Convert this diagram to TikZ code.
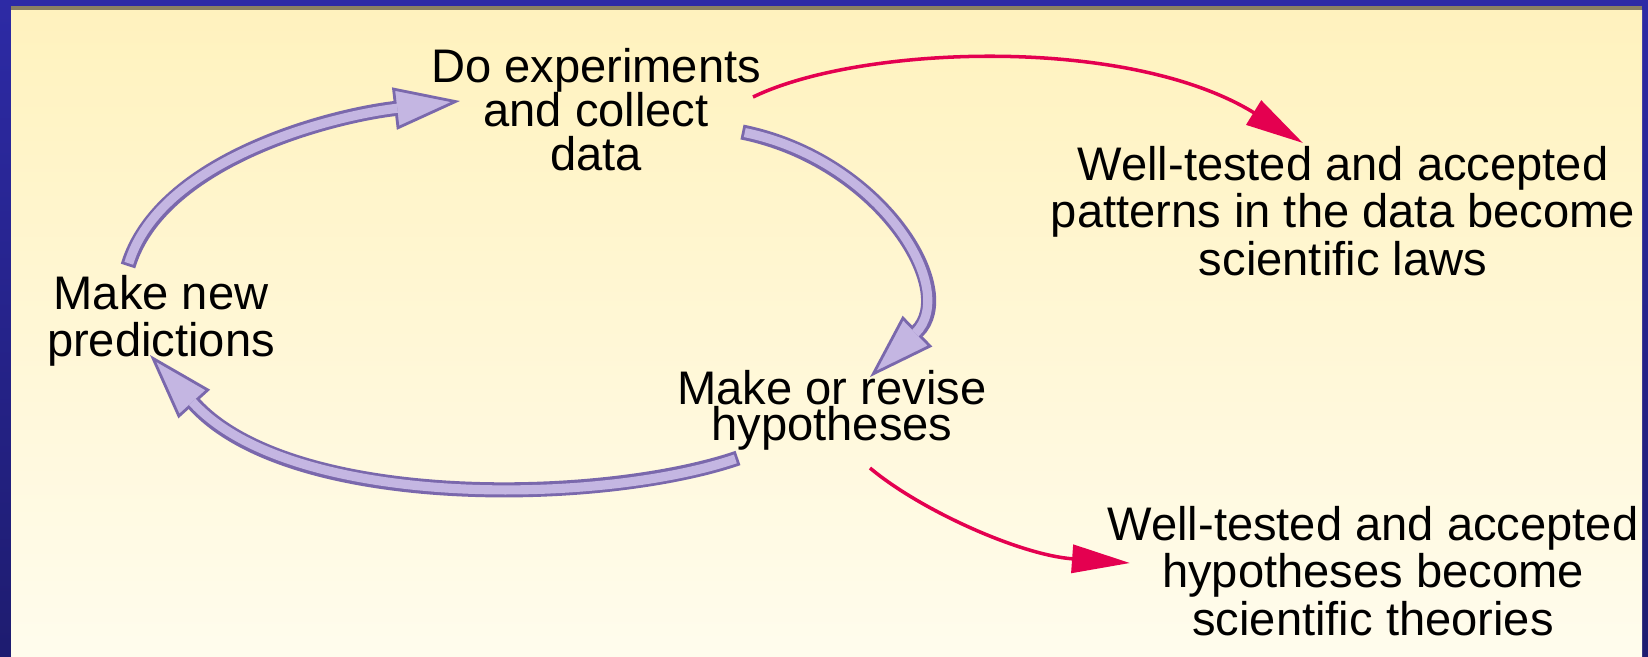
\documentclass[tikz,border=0pt]{standalone}
\usepackage{fontspec}
\setmainfont{Liberation Sans}
\usetikzlibrary{arrows.meta}
\setlength{\lineskiplimit}{-50pt}

\definecolor{frametop}{RGB}{45,42,165}
\definecolor{framebot}{RGB}{30,28,112}
\definecolor{rimline}{RGB}{138,128,98}
\definecolor{bgtop}{RGB}{255,242,190}
\definecolor{bgbot}{RGB}{255,252,237}
\definecolor{lav}{RGB}{196,182,226}
\definecolor{lavedge}{RGB}{122,104,172}
\definecolor{resred}{RGB}{228,0,80}

\begin{document}
\begin{tikzpicture}[x=0.01cm, y=-0.01cm,
  lbl/.style={align=center, inner sep=0pt, anchor=base},
  cyc/.style={draw=lavedge, line width=4.3pt,
    -{Triangle[length=6.6mm,width=4.2mm,fill=lav,line width=0.8pt]},
    postaction={draw=lav, line width=2.6pt, -, shorten >=6.3mm, shorten <=0.8pt}},
  res/.style={draw=resred, line width=1pt, -{Triangle[length=5.8mm,width=2.8mm]}}]
  \useasboundingbox (0,0) rectangle (1648,656);

  % Frame and background
  \shade[top color=frametop, bottom color=framebot] (0,0) rectangle (1648,656);
  \shade[top color=bgtop, bottom color=bgbot] (11,10) rectangle (1642,656);
  \fill[rimline] (11,6) rectangle (1642,10);

  % Steps of the cycle
  \node[lbl, font=\fontsize{13.4pt}{12.5pt}\selectfont] (exp) at (596,170) {Do experiments\\and collect\\data};
  \node[lbl, font=\fontsize{13.4pt}{13.1pt}\selectfont] (pred) at (161,356) {Make new\\predictions};
  \node[lbl, font=\fontsize{13.4pt}{10pt}\selectfont] (hyp) at (832,440) {Make or revise\\hypotheses};

  % Results
  \node[lbl, font=\fontsize{13.4pt}{13.4pt}\selectfont] (laws) at (1343,275) {Well-tested and accepted\\patterns in the data become\\scientific laws};
  \node[lbl, font=\fontsize{13.4pt}{13.4pt}\selectfont] (theories) at (1373,635) {Well-tested and accepted\\hypotheses become\\scientific theories};

  % Arrow ends
  \coordinate (c1s) at (128,266);
  \coordinate (c1e) at (460,101);
  \coordinate (c2s) at (742,132);
  \coordinate (c2e) at (870,377);
  \coordinate (c3s) at (738,458);
  \coordinate (c3e) at (150,355);
  \coordinate (r1s) at (753,97);
  \coordinate (r1e) at (1303,143);
  \coordinate (r2s) at (870,468);
  \coordinate (r2e) at (1130,563);

  % Cycle arrows
  \draw[cyc] (c1s) .. controls (160,160) and (330,116) .. (c1e);
  \draw[cyc] (c2s) .. controls (880,160) and (960,290) .. (c2e);
  \draw[cyc] (c3s) .. controls (600,505) and (290,510) .. (c3e);

  % Arrows to laws and theories
  \draw[res] (r1s) .. controls (860,45) and (1128,35) .. (r1e);
  \draw[res] (r2s) .. controls (920,510) and (1020,555) .. (r2e);
\end{tikzpicture}
\end{document}
